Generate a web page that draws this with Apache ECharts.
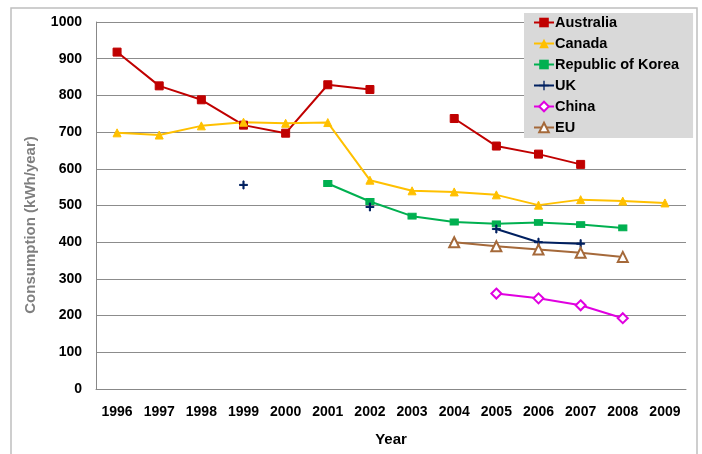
<!DOCTYPE html>
<html>
<head>
<meta charset="utf-8">
<script src="https://cdn.jsdelivr.net/npm/echarts@6/dist/echarts.min.js"></script>
<style>
  html, body { margin: 0; padding: 0; background: #fff; }
  #main { width: 702px; height: 454px; }
</style>
</head>
<body>
<div id="main"></div>
<script>
var years = ['1996','1997','1998','1999','2000','2001','2002','2003','2004','2005','2006','2007','2008','2009'];
var australia = [918, 826, 788, 719, 697, 829, 816, null, 737, 662, 640, 612, null, null];
var canada = [698, 692, 717, 727, 724, 726, 569, 540, 537, 529, 501, 516, 512, 507];
var korea = [null, null, null, null, null, 560, 511, 471, 455, 450, 454, 448, 439, null];
var uk = [null, null, null, 556, null, null, 496, null, null, 436, 400, 396, null, null];
var china = [null, null, null, null, null, null, null, null, null, 260, 247, 228, 193, null];
var eu = [null, null, null, null, null, null, null, null, 400, 389, 380, 371, 360, null];

var font = 'Arial, "Liberation Sans", sans-serif';
var plus = 'path://M0,4.3h10v1.4h-10z M4.3,0h1.4v10h-1.4z';

function line(name, data, color, symbol, size){
  return {
    name: name,
    type: 'line',
    data: data,
    symbol: symbol,
    symbolSize: size,
    connectNulls: false,
    lineStyle: { color: color, width: 2 },
    itemStyle: { color: color, borderColor: color },
    emphasis: { disabled: true }
  };
}

var chart = echarts.init(document.getElementById('main'), null, { renderer: 'canvas' });
chart.setOption({
  animation: false,
  textStyle: { fontFamily: font },
  graphic: [{
    type: 'rect',
    shape: { x: 11, y: 8, width: 686, height: 460 },
    style: { fill: 'none', stroke: '#BFBFBF', lineWidth: 1.5 },
    silent: true
  }, {
    // y axis title, placed a bit below the plot centre like the original
    type: 'text',
    x: 31,
    y: 225,
    rotation: Math.PI / 2,
    style: {
      text: 'Consumption (kWh/year)',
      fill: '#7F7F7F',
      font: 'bold 15px ' + font,
      textAlign: 'center',
      textVerticalAlign: 'middle'
    },
    silent: true
  }],
  grid: { left: 96, right: 16, top: 22, bottom: 65 },
  legend: {
    orient: 'vertical',
    left: 524,
    top: 13,
    padding: [2, 14, 3, 9],
    backgroundColor: '#D9D9D9',
    itemWidth: 20,
    itemHeight: 12,
    itemGap: 6,
    align: 'left',
    textStyle: { fontFamily: font, fontWeight: 'bold', fontSize: 14.5, lineHeight: 14, color: '#000', padding: [0, 0, 0, -4] },
    data: ['Australia', 'Canada', 'Republic of Korea', 'UK', 'China', 'EU']
  },
  xAxis: {
    type: 'category',
    data: years,
    boundaryGap: true,
    name: 'Year',
    nameLocation: 'middle',
    nameGap: 43,
    nameTextStyle: { fontFamily: font, fontWeight: 'bold', fontSize: 15, color: '#000' },
    axisLine: { lineStyle: { color: '#888', width: 1 } },
    axisTick: { show: false },
    axisLabel: { fontFamily: font, fontWeight: 'bold', fontSize: 14, color: '#000', margin: 16, interval: 0 }
  },
  yAxis: {
    type: 'value',
    min: 0,
    max: 1000,
    interval: 100,
    axisLine: { show: true, lineStyle: { color: '#888', width: 1 } },
    axisTick: { show: false },
    axisLabel: { fontFamily: font, fontWeight: 'bold', fontSize: 14, color: '#000', margin: 14, formatter: function(v){ return String(v); } },
    splitLine: { lineStyle: { color: '#8C8C8C', width: 1 } }
  },
  series: [
    line('Australia', australia, '#C00000', 'rect', 8),
    line('Canada', canada, '#FFC000', 'triangle', 8),
    line('Republic of Korea', korea, '#00B050', 'rect', [8, 6]),
    line('UK', uk, '#002060', plus, 8),
    line('China', china, '#E000E0', 'emptyDiamond', 10),
    line('EU', eu, '#A5693A', 'emptyTriangle', 10)
  ]
});
</script>
</body>
</html>
